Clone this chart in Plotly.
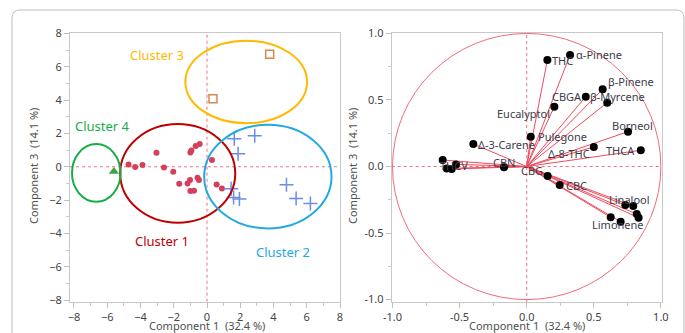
import plotly.graph_objects as go

# ---- score plot (Component 1 vs Component 3) ----
c1_x = [-4.72, -4.32, -3.88, -3.04, -2.59, -2.03, -1.67, -1.17, -1.02, -0.57, -0.48,
        -1.00, -0.78, -1.00, -0.94, -0.68, -0.44, 0.30, 0.58, 0.90]
c1_y = [0.14, -0.02, 0.10, 0.84, -0.04, -0.30, -1.02, -1.00, -0.80, -0.66, -0.80,
        -1.46, -1.44, 0.86, 0.98, 1.24, 1.36, 0.40, -1.06, -1.30]
c2_x = [1.64, 2.87, 1.87, 1.45, 1.60, 1.95, 4.78, 5.36, 6.22]
c2_y = [1.68, 1.86, 0.78, -1.32, -1.84, -1.94, -1.08, -1.90, -2.20]
c3_x = [3.77, 0.36]
c3_y = [6.75, 4.08]
c4_x = [-5.60]
c4_y = [-0.28]

# cluster ellipses: centre x, centre y, half-width, half-height
ellipses = {
    "Cluster 1": (-1.76, -0.40, 3.46, 2.96),
    "Cluster 2": (3.66, -0.59, 3.83, 3.11),
    "Cluster 3": (2.36, 5.09, 3.66, 2.48),
    "Cluster 4": (-6.66, -0.37, 1.46, 1.73),
}
cluster_label_pos = {
    "Cluster 1": (-2.71, -4.44),
    "Cluster 2": (4.60, -5.10),
    "Cluster 3": (-2.98, 6.70),
    "Cluster 4": (-6.30, 2.44),
}
cluster_colors = {
    "Cluster 1": "#C00000",
    "Cluster 2": "#22A8E2",
    "Cluster 3": "#FFBA00",
    "Cluster 4": "#16AD48",
}

# ---- loading plot ----
var_names = ["THC", "α-Pinene", "β-Pinene", "CBGA", "β-Myrcene", "Eucalyptol",
             "Pulegone", "Borneol", "Δ-8-THC", "THCA", "Δ-3-Carene",
             "THCV", "", "", "", "CBN", "CBG", "CBC",
             "Linalool", "", "", "", "Limonene", ""]
load_x = [0.154, 0.323, 0.566, 0.440, 0.600, 0.206,
          0.030, 0.755, 0.500, 0.850, -0.398,
          -0.626, -0.527, -0.596, -0.559, -0.169, 0.156, 0.246,
          0.735, 0.794, 0.820, 0.834, 0.700, 0.626]
load_y = [0.800, 0.838, 0.580, 0.525, 0.480, 0.450,
          0.224, 0.262, 0.147, 0.122, 0.169,
          0.049, 0.016, -0.014, -0.019, -0.006, -0.071, -0.139,
          -0.290, -0.297, -0.357, -0.385, -0.415, -0.382]

# label placement: xanchor, xshift, yshift (pixels)
label_place = {
    "THC": ("left", 3, 0),
    "α-Pinene": ("left", 4, 0),
    "β-Pinene": ("left", 3, 8),
    "CBGA": ("right", -2, 0),
    "β-Myrcene": ("left", -19, 6),
    "Eucalyptol": ("right", -2, -7),
    "Pulegone": ("left", 5, 0),
    "Borneol": ("left", -18, 6),
    "Δ-8-THC": ("right", -2, -7),
    "THCA": ("right", -4, 0),
    "Δ-3-Carene": ("left", 3, 0),
    "THCV": ("left", -5, -5),
    "CBN": ("center", 0, 5),
    "CBG": ("right", -3, 5),
    "CBC": ("left", 4, 0),
    "Linalool": ("left", -18, 6),
    "Limonene": ("left", -31, -3),
}

W, H = 685, 333
FONT = "Noto Sans, Open Sans, sans-serif"
TICK_FONT = dict(family=FONT, size=11, color="#444444")
RED_LINE = "#F04A5C"


def px_x(p):
    return p / W


def px_y(p):
    return 1 - p / H


fig = go.Figure()

# score traces
fig.add_trace(go.Scatter(x=c1_x, y=c1_y, mode="markers", xaxis="x", yaxis="y",
                         marker=dict(symbol="circle", size=6, color="#D4405A")))
fig.add_trace(go.Scatter(x=c2_x, y=c2_y, mode="markers", xaxis="x", yaxis="y",
                         marker=dict(symbol="cross-thin", size=10,
                                     line=dict(color="#6C8CE8", width=1.5))))
fig.add_trace(go.Scatter(x=c3_x, y=c3_y, mode="markers", xaxis="x", yaxis="y",
                         marker=dict(symbol="square-open", size=8, color="#D8884E",
                                     line=dict(width=1.5))))
fig.add_trace(go.Scatter(x=c4_x, y=c4_y, mode="markers", xaxis="x", yaxis="y",
                         marker=dict(symbol="triangle-up", size=9, color="#38A845")))

# loading vectors from the origin
vx, vy = [], []
for x, y in zip(load_x, load_y):
    vx += [0, x, None]
    vy += [0, y, None]
fig.add_trace(go.Scatter(x=vx, y=vy, mode="lines", xaxis="x2", yaxis="y2",
                         line=dict(color=RED_LINE, width=1)))
fig.add_trace(go.Scatter(x=load_x, y=load_y, mode="markers", xaxis="x2", yaxis="y2",
                         marker=dict(size=8, color="black")))

shapes = []
# dotted reference lines
for xr, yr in (("x", "y"), ("x2", "y2")):
    shapes.append(dict(type="line", xref=xr, yref=yr + " domain", x0=0, x1=0, y0=0, y1=1,
                       line=dict(color="#F27080", width=1, dash="dot"), layer="below"))
    shapes.append(dict(type="line", xref=xr + " domain", yref=yr, x0=0, x1=1, y0=0, y1=0,
                       line=dict(color="#F27080", width=1, dash="dot"), layer="below"))

for name, (cx, cy, rx, ry) in ellipses.items():
    shapes.append(dict(type="circle", xref="x", yref="y",
                       x0=cx - rx, x1=cx + rx, y0=cy - ry, y1=cy + ry,
                       line=dict(color=cluster_colors[name], width=2)))

# unit circle of the loading plot
shapes.append(dict(type="circle", xref="x2", yref="y2", x0=-1, x1=1, y0=-1, y1=1,
                   line=dict(color="#F06A7A", width=1), layer="below"))

# rounded card outline
card = (f"M {px_x(12)},{px_y(345)} L {px_x(12)},{px_y(18)} "
        f"Q {px_x(12)},{px_y(10)} {px_x(20)},{px_y(10)} "
        f"L {px_x(676)},{px_y(10)} Q {px_x(684)},{px_y(10)} {px_x(684)},{px_y(18)} "
        f"L {px_x(684)},{px_y(345)}")
shapes.append(dict(type="path", xref="paper", yref="paper", path=card,
                   line=dict(color="#BDBDBD", width=1)))

annotations = []
for name, (lx, ly) in cluster_label_pos.items():
    annotations.append(dict(x=lx, y=ly, xref="x", yref="y", text=name, showarrow=False,
                            xanchor="center", yanchor="middle",
                            font=dict(family=FONT, size=13, color=cluster_colors[name])))

for name, x, y in zip(var_names, load_x, load_y):
    if not name:
        continue
    anchor, dx, dy = label_place[name]
    annotations.append(dict(x=x, y=y, xref="x2", yref="y2", text=name, showarrow=False,
                            xanchor=anchor, yanchor="middle", xshift=dx, yshift=dy,
                            font=dict(family=FONT, size=11, color="#3C3C48")))

title_font = dict(family=FONT, size=11, color="#505050")
for cx, text in ((207, "Component 1 \u00a0(32.4 %)"), (527, "Component 1 \u00a0(32.4 %)")):
    annotations.append(dict(x=px_x(cx), y=px_y(325.5), xref="paper", yref="paper", text=text,
                            xanchor="center", yanchor="middle",
                            showarrow=False, font=title_font))
for cx in (33, 352):
    annotations.append(dict(x=px_x(cx), y=px_y(166), xref="paper", yref="paper",
                            text="Component 3 \u00a0(14.1 %)", textangle=-90,
                            xanchor="center", yanchor="middle",
                            showarrow=False, font=title_font))

axis_common = dict(showgrid=False, zeroline=False, showline=True, mirror=True,
                   linecolor="#C8C8C8", linewidth=1, ticks="outside", ticklen=5,
                   tickcolor="#C0C0C0", tickfont=TICK_FONT, automargin=False)

fig.update_layout(
    width=W, height=H,
    margin=dict(l=0, r=0, t=0, b=0, autoexpand=False),
    paper_bgcolor="white", plot_bgcolor="white",
    showlegend=False,
    shapes=shapes,
    annotations=annotations,
    xaxis=dict(domain=[px_x(70), px_x(340)], range=[-8.24, 8.0], anchor="y",
               tickmode="array", tickvals=[-8, -6, -4, -2, 0, 2, 4, 6, 8],
               minor=dict(dtick=1, ticks="outside", ticklen=3, tickcolor="#C8C8C8"),
               **axis_common),
    yaxis=dict(domain=[1 - 301.7 / H, 1 - 33 / H], range=[-8.1, 8.03], anchor="x",
               tickmode="array", tickvals=[-8, -6, -4, -2, 0, 2, 4, 6, 8],
               minor=dict(dtick=1, ticks="outside", ticklen=3, tickcolor="#C8C8C8"),
               **axis_common),
    xaxis2=dict(domain=[px_x(391.7), px_x(661.7)], range=[-1.006, 1.006], anchor="y2",
                tickmode="array", tickvals=[-1, -0.5, 0, 0.5, 1],
                ticktext=["-1.0", "-0.5", "0.0", "0.5", "1.0"],
                minor=dict(dtick=0.25, ticks="outside", ticklen=3, tickcolor="#C8C8C8"),
                **axis_common),
    yaxis2=dict(domain=[1 - 302 / H, 1 - 32.5 / H], range=[-1.018, 1.007], anchor="x2",
                tickmode="array", tickvals=[-1, -0.5, 0, 0.5, 1],
                ticktext=["-1.0", "-0.5", "0.0", "0.5", "1.0"],
                minor=dict(dtick=0.25, ticks="outside", ticklen=3, tickcolor="#C8C8C8"),
                **axis_common),
)

fig.write_html("out.html")
